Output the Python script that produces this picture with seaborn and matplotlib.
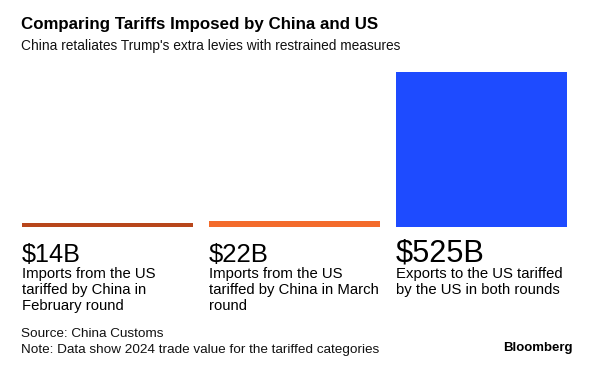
import matplotlib
matplotlib.use("Agg")
import matplotlib.pyplot as plt
import matplotlib.transforms as mtransforms
import seaborn as sns
import pandas as pd

# ---- data ----
categories = ["China Feb round", "China March round", "US both rounds"]
values = [14, 22, 525]
value_labels = ["$14B", "$22B", "$525B"]
descriptions = [
    "Imports from the US\ntariffed by China in\nFebruary round",
    "Imports from the US\ntariffed by China in March\nround",
    "Exports to the US tariffed\nby the US in both rounds",
]
colors = ["#B8461B", "#F36B2B", "#1E4BFF"]
title = "Comparing Tariffs Imposed by China and US"
subtitle = "China retaliates Trump's extra levies with restrained measures"
source = "Source: China Customs"
note = "Note: Data show 2024 trade value for the tariffed categories"
brand = "Bloomberg"

W, H = 603, 367
sns.set_theme(style="white")
plt.rcParams["font.family"] = ["Liberation Sans", "DejaVu Sans"]

fig = plt.figure(figsize=(W / 100, H / 100), dpi=100)
fig.patch.set_facecolor("white")

bar_w = 171 / 187
ax = fig.add_axes([22 / W, 1 - 227 / H, 545 / W, (227 - 72) / H])
df = pd.DataFrame({"cat": categories, "value": values})
sns.barplot(data=df, x="cat", y="value", hue="cat", palette=colors,
            width=bar_w, saturation=1, legend=False, ax=ax, linewidth=0)
ax.set_xlim(-bar_w / 2, 2 + bar_w / 2)
ax.set_ylim(0, max(values))
ax.axis("off")

renderer = fig.canvas.get_renderer()


def fit(t, target_px):
    bb = t.get_window_extent(renderer)
    if bb.width > 0:
        t.set_fontsize(t.get_fontsize() * target_px / bb.width)


def ftext(x_px, y_px, s, target, **kw):
    t = fig.text(x_px / W, 1 - y_px / H, s, va="baseline", ha="left", **kw)
    fit(t, target)
    return t


ftext(21, 29, title, 356, fontsize=12, fontweight="bold", color="#000000")
ftext(21, 50, subtitle, 381, fontsize=10, color="#111111")

trans = mtransforms.blended_transform_factory(ax.transData, fig.transFigure)
num_widths = [59, 60, 89]
for i, lab in enumerate(value_labels):
    x0 = i - bar_w / 2
    t = ax.text(x0, 1 - 262 / H, lab, transform=trans, va="baseline", ha="left",
                fontsize=20, color="#000000")
    fit(t, num_widths[i])

# description size fitted on one reference line
probe = fig.text(0, 0, "tariffed by China in March", fontsize=10)
fit(probe, 170)
desc_size = probe.get_fontsize()
probe.remove()
for i, desc in enumerate(descriptions):
    x0 = i - bar_w / 2
    for j, line in enumerate(desc.split("\n")):
        ax.text(x0, 1 - (278 + 16 * j) / H, line, transform=trans,
                va="baseline", ha="left", fontsize=desc_size, color="#000000")

probe = fig.text(0, 0, note, fontsize=9)
fit(probe, 366)
small = min(probe.get_fontsize(), 9.7)
probe.remove()
fig.text(21 / W, 1 - 337 / H, source, va="baseline", ha="left",
         fontsize=small, color="#111111")
fig.text(21 / W, 1 - 353 / H, note, va="baseline", ha="left",
         fontsize=small, color="#111111")
tb = fig.text(573 / W, 1 - 351 / H, brand, ha="right", va="baseline",
              fontsize=10, fontweight="bold", color="#000000")
fit(tb, 70)

fig.savefig("out.png", dpi=100, facecolor="white")
